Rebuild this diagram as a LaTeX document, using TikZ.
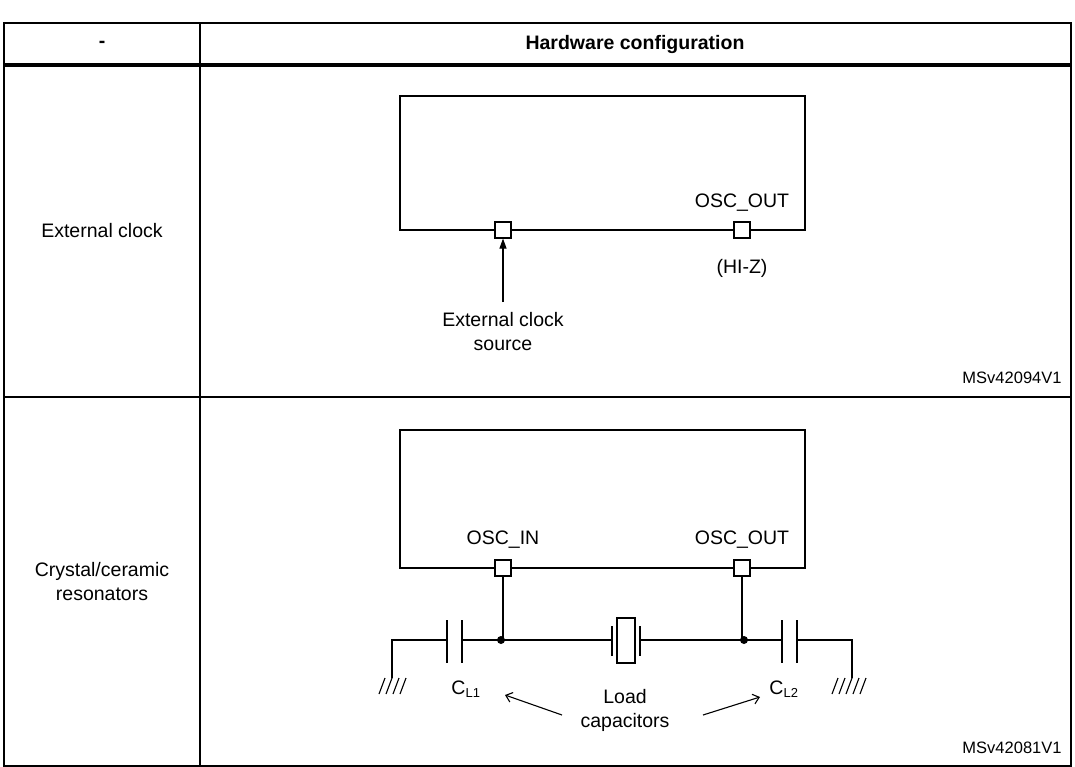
\documentclass[tikz,border=0pt]{standalone}
\usepackage{fontspec}
\setmainfont{Liberation Sans}
\usetikzlibrary{arrows.meta}
\begin{document}
\begin{tikzpicture}[x=1pt,y=-1pt,
  wire/.style={line width=1.6pt},
  thin/.style={line width=1.1pt},
  pin/.style={draw,fill=white,line width=1.1pt,minimum size=16pt,inner sep=0pt},
  lbl/.style={font=\fontsize{19.5}{24}\selectfont,align=center},
  small/.style={font=\fontsize{16.5}{19}\selectfont},
  dot/.style={circle,fill=black,inner sep=0pt,minimum size=8pt}]
\useasboundingbox (0,0) rectangle (1075,766);
% table
\draw[line width=1.5pt] (4,23) rectangle (1071,766);
\draw[line width=1.5pt] (200,23) -- (200,766);
\draw[line width=4pt] (4,65) -- (1071,65);
\draw[line width=1.5pt] (4,397) -- (1071,397);
\node[lbl,font=\bfseries\fontsize{19.5}{24}\selectfont] (h1) at (102,44) {-};
\node[lbl,font=\bfseries\fontsize{19.5}{24}\selectfont] (h2) at (635,44) {Hardware configuration};
\node[lbl] (r1) at (102,231) {External clock};
\node[lbl] (r2) at (102,582) {Crystal/ceramic\\resonators};
% top diagram
\draw[wire] (400,96) rectangle (805,230);
\node[pin] (p1) at (503,230) {};
\node[pin] (p2) at (742,230) {};
\node[lbl] (o1) at (742,203) {OSC\_OUT};
\node[lbl] (hz) at (742,268) {(HI-Z)};
\node[lbl] (src) at (503,332) {External clock\\source};
\draw[thin,-{Triangle[length=10pt,width=7pt]}] (503,302) -- (p1.south);
\node[small] (m1) at (1012,378) {MSv42094V1};
% bottom diagram
\draw[wire] (400,430) rectangle (805,568);
\node[pin] (q1) at (503,568) {};
\node[pin] (q2) at (742,568) {};
\node[lbl] (i2) at (503,540) {OSC\_IN};
\node[lbl] (o2) at (742,540) {OSC\_OUT};
\node[dot] (d1) at (501,640) {};
\node[dot] (d2) at (744,640) {};
\draw[thin] (q1.south) -- (q1.south |- d1.center);
\draw[thin] (q2.south) -- (q2.south |- d2.center);
% left cap + ground
\draw[thin] (392,678) -- (392,640) -- (447,640);
\draw[line width=2.5pt] (447,620) -- (447,663);
\draw[line width=2.5pt] (462,620) -- (462,663);
\draw[thin] (462,640) -- (d1.center) -- (612,640);
% crystal
\draw[line width=2.5pt] (612,626) -- (612,656);
\draw[line width=2.5pt] (640,626) -- (640,656);
\draw[line width=1.4pt] (617,618) rectangle (635,663);
\draw[thin] (640,640) -- (d2.center) -- (782,640);
% right cap + ground
\draw[line width=2.5pt] (782,620) -- (782,663);
\draw[line width=2.5pt] (797,620) -- (797,663);
\draw[thin] (797,640) -- (852,640) -- (852,678);
\foreach \x in {385,392,399,406} \draw[thin] (\x,678) -- (\x-6,694);
\foreach \x in {838,845,852,859,866} \draw[thin] (\x,678) -- (\x-6,694);
\node[lbl] (c1) at (466,689) {C\textsubscript{\fontsize{13}{15}\selectfont L1}};
\node[lbl] (c2) at (784,689) {C\textsubscript{\fontsize{13}{15}\selectfont L2}};
\node[lbl] (ld) at (625,710) {Load\\capacitors};
\draw[thin,-{Straight Barb[length=6pt,width=10pt]}] (562,715) -- (505,695);
\draw[thin,-{Straight Barb[length=6pt,width=10pt]}] (703,715) -- (760,697);
\node[small] (m2) at (1012,748) {MSv42081V1};
\end{tikzpicture}
\end{document}
